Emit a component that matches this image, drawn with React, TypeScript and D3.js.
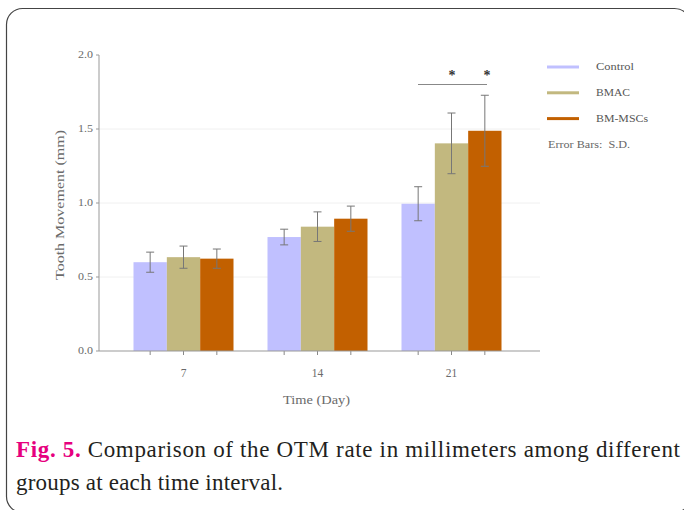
import React from "react";
import * as d3 from "d3";

const days = ["7", "14", "21"];
const groups = ["Control", "BMAC", "BM-MSCs"];
const controlMean = [0.6, 0.77, 0.995];
const controlSD = [0.068, 0.053, 0.115];
const bmacMean = [0.634, 0.84, 1.403];
const bmacSD = [0.075, 0.1, 0.205];
const mscMean = [0.624, 0.894, 1.488];
const mscSD = [0.065, 0.085, 0.24];
const yTicks = [0, 0.5, 1.0, 1.5, 2.0];
const colors = ["#c0c0ff", "#c2b87f", "#c26000"];

const means = [controlMean, bmacMean, mscMean];
const sds = [controlSD, bmacSD, mscSD];

export default function App() {
  const W = 684, H = 510;
  const y = d3.scaleLinear().domain([0, 2]).range([351, 55]);
  const x0 = d3.scaleBand().domain(days).range([116.5, 518.5]).paddingInner(34 / 134).paddingOuter(34 / 268);
  const x1 = d3.scaleBand().domain(groups).range([0, x0.bandwidth()]);
  const axisLeft = 99, axisRight = 540;
  const tickFill = "#6a6a6a";
  const font = "Liberation Serif, DejaVu Serif, Times New Roman, serif";
  const legW = [38, 34, 52];

  return (
    <svg width={W} height={H} style={{ position: "absolute", left: 0, top: 0, background: "#fff", fontFamily: font }}>
      <rect x={6.5} y={8.5} width={684} height={504} rx={16} fill="none" stroke="#444" strokeWidth={1.2} />
      {yTicks.filter(t => t > 0 && t < 2).map(t => (
        <line key={"g" + t} x1={axisLeft} x2={axisRight} y1={y(t)} y2={y(t)} stroke="#f0f0f0" strokeWidth={1} />
      ))}
      {days.map((d, i) => (
        <g key={d}>
          {groups.map((g, j) => {
            const bx = (x0(d) as number) + (x1(g) as number);
            const cx = bx + x1.bandwidth() / 2;
            const m = means[j][i], s = sds[j][i];
            return (
              <g key={g}>
                <rect x={bx} y={y(m)} width={x1.bandwidth()} height={y(0) - y(m)} fill={colors[j]} />
                <line x1={cx} x2={cx} y1={y(m + s)} y2={y(m - s)} stroke="#777" strokeWidth={1} />
                <line x1={cx - 4} x2={cx + 4} y1={y(m + s)} y2={y(m + s)} stroke="#777" strokeWidth={1} />
                <line x1={cx - 4} x2={cx + 4} y1={y(m - s)} y2={y(m - s)} stroke="#777" strokeWidth={1} />
                <line x1={cx} x2={cx} y1={y(0)} y2={y(0) + 4} stroke="#888" strokeWidth={1} />
              </g>
            );
          })}
        </g>
      ))}
      <line x1={axisLeft} x2={axisLeft} y1={y(2)} y2={y(0)} stroke="#999" strokeWidth={1} />
      <line x1={axisLeft} x2={axisRight} y1={y(0)} y2={y(0)} stroke="#999" strokeWidth={1} />
      {yTicks.map(t => (
        <g key={"t" + t}>
          <line x1={axisLeft - 3} x2={axisLeft} y1={y(t)} y2={y(t)} stroke="#999" />
          <text x={axisLeft - 6} y={y(t)} dy="0.32em" textAnchor="end" fontSize={10} fill={tickFill}
            textLength={15} lengthAdjust="spacingAndGlyphs">{t.toFixed(1)}</text>
        </g>
      ))}
      {days.map(d => (
        <text key={"xl" + d} x={(x0(d) as number) + x0.bandwidth() / 2} y={377} textAnchor="middle" fontSize={11.5} fill={tickFill}>{d}</text>
      ))}
      <text x={316.5} y={404} textAnchor="middle" fontSize={12.5} fill={tickFill}
        textLength={67} lengthAdjust="spacingAndGlyphs">Time (Day)</text>
      <text transform={`translate(64,205) rotate(-90)`} textAnchor="middle" fontSize={12.5} fill={tickFill}
        textLength={150} lengthAdjust="spacingAndGlyphs">Tooth Movement (mm)</text>
      <line x1={418} x2={487} y1={84.5} y2={84.5} stroke="#888" strokeWidth={1} />
      <text x={452} y={80} textAnchor="middle" fontSize={14} fontWeight="bold" fill="#333">*</text>
      <text x={487} y={80} textAnchor="middle" fontSize={14} fontWeight="bold" fill="#333">*</text>
      {groups.map((g, j) => (
        <g key={"lg" + g}>
          <line x1={547} x2={579} y1={67 + j * 25.8} y2={67 + j * 25.8} stroke={colors[j]} strokeWidth={3} />
          <text x={596} y={67 + j * 25.8} dy="0.32em" fontSize={10.5} fill="#555"
            textLength={legW[j]} lengthAdjust="spacingAndGlyphs">{g}</text>
        </g>
      ))}
      <text x={548} y={145} dy="0.32em" fontSize={10.5} fill="#666" style={{ whiteSpace: "pre" }}
        textLength={82} lengthAdjust="spacingAndGlyphs">{"Error Bars:  S.D."}</text>
      <text x={16} y={457} fontSize={23} fill="#231f20" textLength={664} lengthAdjust="spacing">
        <tspan fill="#e6007e" fontWeight="bold">Fig. 5.</tspan>
        <tspan> Comparison of the OTM rate in millimeters among different</tspan>
      </text>
      <text x={16} y={490} fontSize={23} fill="#231f20" textLength={267} lengthAdjust="spacing">groups at each time interval.</text>
    </svg>
  );
}
